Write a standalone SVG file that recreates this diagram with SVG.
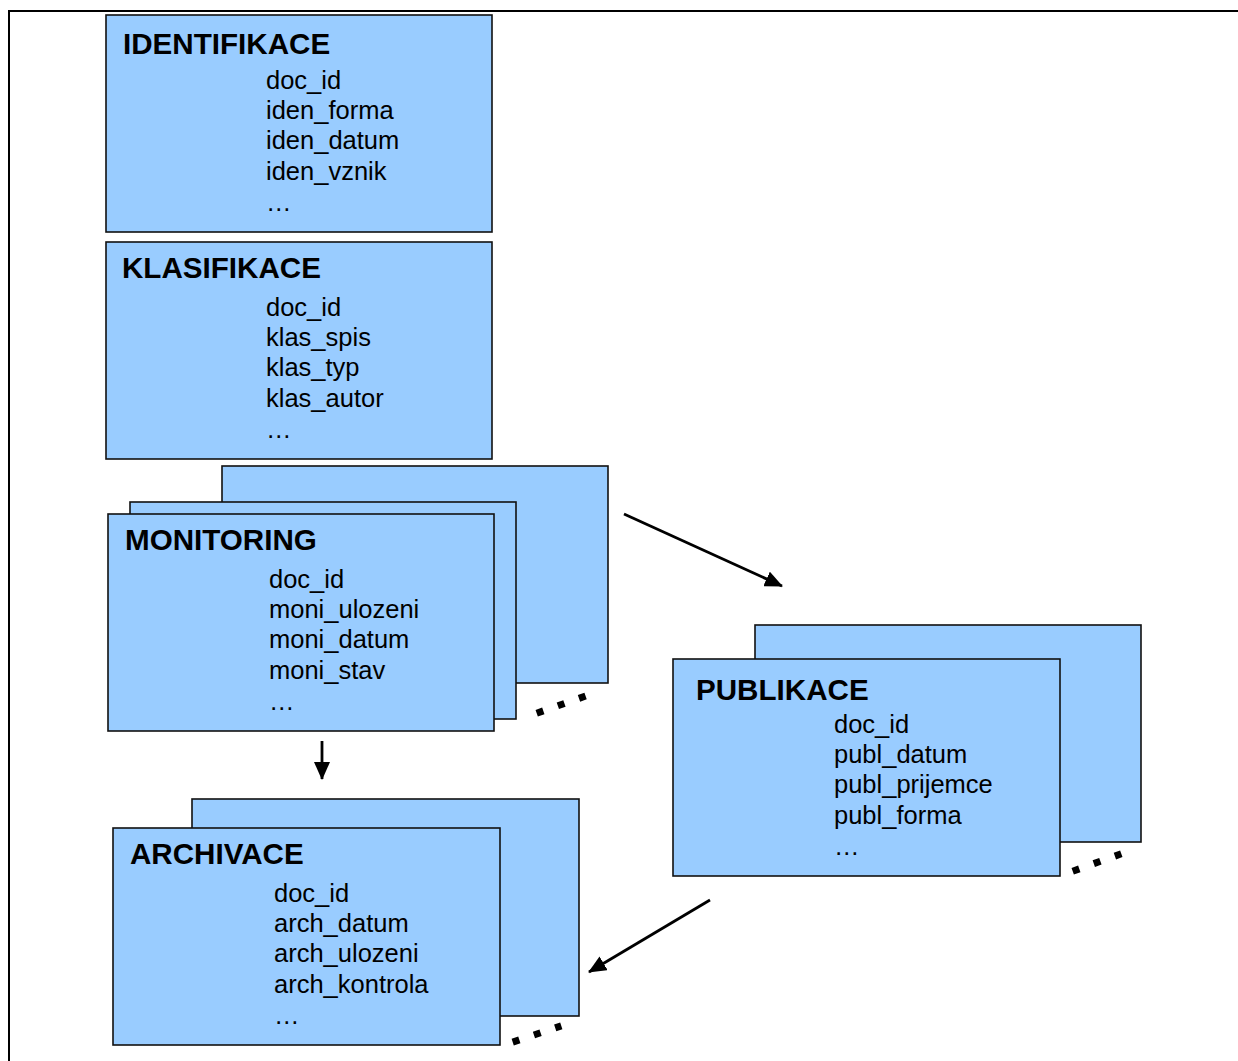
<svg xmlns="http://www.w3.org/2000/svg" width="1238" height="1061" viewBox="0 0 1238 1061">
  <style>
    .box { fill: #99CCFF; stroke: #111; stroke-width: 1.6; }
    .title { font-family: "Liberation Sans", Arial, sans-serif; font-weight: bold; font-size: 29.6px; fill: #000; }
    .field { font-family: "Liberation Sans", Arial, sans-serif; font-size: 25.5px; fill: #000; }
    .conn { stroke: #000; stroke-width: 2.8; fill: none; marker-end: url(#head); }
    .more { stroke: #000; stroke-width: 7; fill: none; }
  </style>
  <defs>
    <marker id="head" markerUnits="userSpaceOnUse" markerWidth="18" markerHeight="16" refX="17" refY="8" orient="auto">
      <path d="M0,0 L18,8 L0,16 z" fill="#000"/>
    </marker>
  </defs>
  <rect width="1238" height="1061" fill="#fff"/>

  <!-- page frame -->
  <path d="M9,1061 V11 H1238" fill="none" stroke="#000" stroke-width="2"/>

  <g id="identifikace">
    <rect class="box" x="106" y="15" width="386" height="217"/>
    <text class="title" x="123" y="54">IDENTIFIKACE</text>
    <text class="field" x="266" y="89">doc_id</text>
    <text class="field" x="266" y="119">iden_forma</text>
    <text class="field" x="266" y="149">iden_datum</text>
    <text class="field" x="266" y="180">iden_vznik</text>
    <text class="field" x="266" y="211">…</text>
  </g>

  <g id="klasifikace">
    <rect class="box" x="106" y="242" width="386" height="217"/>
    <text class="title" x="122" y="278">KLASIFIKACE</text>
    <text class="field" x="266" y="316">doc_id</text>
    <text class="field" x="266" y="346">klas_spis</text>
    <text class="field" x="266" y="376">klas_typ</text>
    <text class="field" x="266" y="407">klas_autor</text>
    <text class="field" x="266" y="438">…</text>
  </g>

  <g id="monitoring">
    <rect class="box" x="222" y="466" width="386" height="217"/>
    <rect class="box" x="130" y="502" width="386" height="217"/>
    <rect class="box" x="108" y="514" width="386" height="217"/>
    <text class="title" x="125" y="550">MONITORING</text>
    <text class="field" x="269" y="588">doc_id</text>
    <text class="field" x="269" y="618">moni_ulozeni</text>
    <text class="field" x="269" y="648">moni_datum</text>
    <text class="field" x="269" y="679">moni_stav</text>
    <text class="field" x="269" y="710">…</text>
    <line class="more" x1="536.7" y1="713.2" x2="586.3" y2="695.8" stroke-dasharray="7 15.4"/>
  </g>

  <g id="publikace">
    <rect class="box" x="755" y="625" width="386" height="217"/>
    <rect class="box" x="673" y="659" width="387" height="217"/>
    <text class="title" x="696" y="700">PUBLIKACE</text>
    <text class="field" x="834" y="733">doc_id</text>
    <text class="field" x="834" y="763">publ_datum</text>
    <text class="field" x="834" y="793">publ_prijemce</text>
    <text class="field" x="834" y="824">publ_forma</text>
    <text class="field" x="834" y="855">…</text>
    <line class="more" x1="1072.7" y1="871.2" x2="1121.3" y2="853.8" stroke-dasharray="7 15.4"/>
  </g>

  <g id="archivace">
    <rect class="box" x="192" y="799" width="387" height="217"/>
    <rect class="box" x="113" y="828" width="387" height="217"/>
    <text class="title" x="130" y="864">ARCHIVACE</text>
    <text class="field" x="274" y="902">doc_id</text>
    <text class="field" x="274" y="932">arch_datum</text>
    <text class="field" x="274" y="962">arch_ulozeni</text>
    <text class="field" x="274" y="993">arch_kontrola</text>
    <text class="field" x="274" y="1024">…</text>
    <line class="more" x1="512.7" y1="1042.1" x2="561.3" y2="1025.9" stroke-dasharray="7 15.4"/>
  </g>

  <g id="connectors">
    <line class="conn" x1="624" y1="514" x2="782" y2="586"/>
    <line class="conn" x1="322" y1="741" x2="322" y2="779"/>
    <line class="conn" x1="710" y1="900" x2="589" y2="972"/>
  </g>
</svg>
